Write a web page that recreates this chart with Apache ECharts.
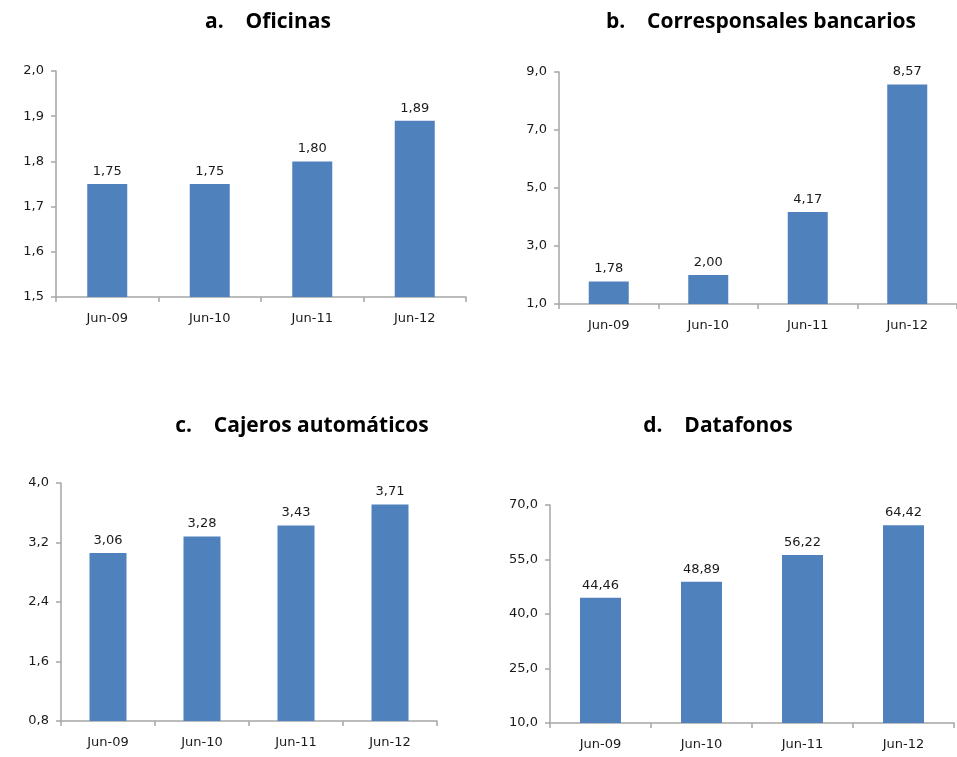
<!DOCTYPE html>
<html>
<head>
<meta charset="utf-8">
<style>
  html, body { margin: 0; padding: 0; background: #fff; }
  #main { width: 957px; height: 757px; }
</style>
<script src="https://cdn.jsdelivr.net/npm/echarts@6/dist/echarts.min.js"></script>
</head>
<body>
<div id="main"></div>
<script>
var categories = ["Jun-09", "Jun-10", "Jun-11", "Jun-12"];
var oficinas = [1.75, 1.75, 1.80, 1.89];
var corresponsales = [1.78, 2.00, 4.17, 8.57];
var cajeros = [3.06, 3.28, 3.43, 3.71];
var datafonos = [44.46, 48.89, 56.22, 64.42];

var panelTitles = ["a.    Oficinas", "b.    Corresponsales bancarios", "c.    Cajeros automáticos", "d.    Datafonos"];
var yMin = [1.5, 1, 0.8, 10];
var yMax = [2.0, 9, 4.0, 70];
var yStep = [0.1, 2, 0.8, 15];

var barColor = "#4f81bd";
var axisColor = "#a6a6a6";
var textColor = "#1a1a1a";

// panel layout (pixels)
var grids = [
  { left: 56, top: 71, width: 410, height: 226 },
  { left: 559, top: 72, width: 402, height: 232 },
  { left: 61, top: 483, width: 376, height: 238 },
  { left: 550, top: 505, width: 404, height: 218 }
];
var titlePos = [[263, 7], [756, 7], [297, 411], [713, 411]];
var barWidths = [40, 40, 37, 41];
var seriesData = [oficinas, corresponsales, cajeros, datafonos];

function comma(v, d) {
  return Number(v).toFixed(d).replace(".", ",");
}

var option = {
  animation: false,
  backgroundColor: "#fff",
  title: [],
  grid: [],
  xAxis: [],
  yAxis: [],
  series: []
};

for (var i = 0; i < 4; i++) {
  option.title.push({
    text: panelTitles[i],
    left: titlePos[i][0],
    top: titlePos[i][1],
    textAlign: "center",
    textStyle: {
      fontFamily: "Open Sans",
      fontWeight: "bold",
      fontSize: 21,
      color: "#000"
    }
  });
  option.grid.push({
    left: grids[i].left,
    top: grids[i].top,
    width: grids[i].width,
    height: grids[i].height,
    containLabel: false
  });
  option.xAxis.push({
    type: "category",
    gridIndex: i,
    data: categories,
    axisLine: { lineStyle: { color: axisColor, width: 1.5 } },
    axisTick: { show: true, length: 5, lineStyle: { color: axisColor, width: 1.5 } },
    axisLabel: {
      color: textColor,
      fontFamily: "DejaVu Sans",
      fontSize: 13,
      margin: 15
    },
    splitLine: { show: false }
  });
  option.yAxis.push({
    type: "value",
    gridIndex: i,
    min: yMin[i],
    max: yMax[i],
    interval: yStep[i],
    axisLine: { show: true, lineStyle: { color: axisColor, width: 1.5 } },
    axisTick: { show: true, length: 5, lineStyle: { color: axisColor, width: 1.5 } },
    axisLabel: {
      color: textColor,
      fontFamily: "DejaVu Sans",
      fontSize: 13,
      margin: 12,
      formatter: function (v) { return comma(v, 1); }
    },
    splitLine: { show: false }
  });
  option.series.push({
    type: "bar",
    xAxisIndex: i,
    yAxisIndex: i,
    data: seriesData[i],
    barWidth: barWidths[i],
    itemStyle: { color: barColor },
    label: {
      show: true,
      position: "top",
      distance: 6,
      color: textColor,
      fontFamily: "DejaVu Sans",
      fontSize: 13,
      formatter: function (p) { return comma(p.value, 2); }
    }
  });
}

var myChart = echarts.init(document.getElementById("main"));
myChart.setOption(option);
</script>
</body>
</html>
